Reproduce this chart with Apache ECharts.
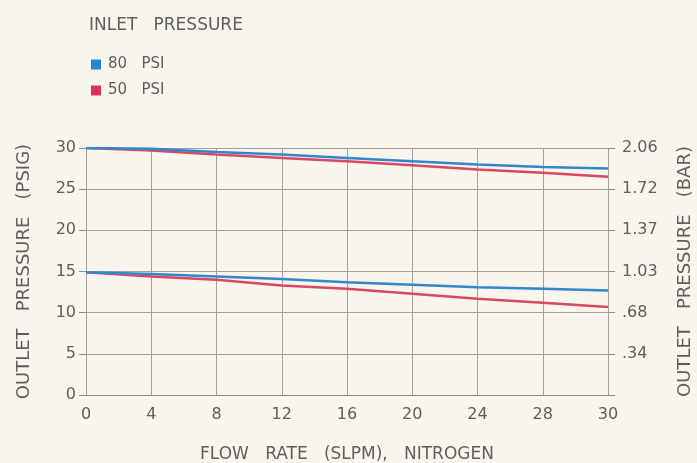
<!DOCTYPE html>
<html><head><meta charset="utf-8">
<script src="https://cdn.jsdelivr.net/npm/echarts@6/dist/echarts.min.js"></script>
<style>html,body{margin:0;padding:0;background:#f8f5ec;}#c{width:697px;height:463px;}</style>
</head><body><div id="c"></div>
<script>
const flowRates = ['0','4','8','12','16','20','24','28','30'];
const high80 = [30.0, 29.9, 29.5, 29.2, 28.8, 28.4, 28.0, 27.7, 27.5];
const high50 = [30.0, 29.7, 29.2, 28.8, 28.4, 27.9, 27.4, 27.0, 26.5];
const low80  = [14.9, 14.7, 14.4, 14.1, 13.7, 13.4, 13.1, 12.9, 12.7];
const low50  = [14.9, 14.4, 14.0, 13.3, 12.9, 12.3, 11.7, 11.2, 10.7];
const psigTicks = ['0','5','10','15','20','25','30'];
const barTicks = ['', '.34', '.68', '1.03', '1.37', '1.72', '2.06'];
const legendNames = ['80   PSI', '50   PSI'];
const blue = '#3385d0', red = '#d84862';
const txt = '#5e5e5e';
const font = 'DejaVu Sans';
const chart = echarts.init(document.getElementById('c'));
const line = (name, data, color) => ({name, type:'line', data, xAxisIndex:0, yAxisIndex:0, symbol:'none', lineStyle:{color, width:2.5}, itemStyle:{color}});
chart.setOption({
  backgroundColor:'#f8f5ec',
  textStyle:{fontFamily:font},
  title:{text:'INLET   PRESSURE', left:84, top:12, textStyle:{fontSize:17, fontWeight:'normal', color:txt, fontFamily:font}},
  legend:{data:[{name:legendNames[0], itemStyle:{color:'#1e88d8'}},{name:legendNames[1], itemStyle:{color:'#e0305a'}}],
    orient:'vertical', left:86, top:52, icon:'rect', itemWidth:10, itemHeight:10, itemGap:11,
    textStyle:{fontSize:15, color:txt, fontFamily:font, padding:[0,0,0,2]}},
  grid:{left:86, right:89, top:148, bottom:68, outerBoundsMode:'none', containLabel:false},
  xAxis:{type:'category', data:flowRates, boundaryGap:false,
    name:'FLOW   RATE   (SLPM),   NITROGEN', nameLocation:'middle', nameGap:51,
    nameTextStyle:{fontSize:17, color:txt, fontFamily:font},
    axisLine:{lineStyle:{color:'#8a8a8a'}}, axisTick:{show:false},
    axisLabel:{fontSize:16, color:txt, margin:12},
    splitLine:{show:true, lineStyle:{color:'#a0a0a0', width:1}}},
  yAxis:[{type:'value', min:0, max:30, interval:5, position:'left',
    name:'OUTLET   PRESSURE   (PSIG)', nameLocation:'middle', nameGap:53, nameRotate:90,
    nameTextStyle:{fontSize:18, color:txt, fontFamily:font},
    axisLine:{show:false}, axisTick:{show:true, length:7, lineStyle:{color:'#8a8a8a'}},
    axisLabel:{fontSize:16, color:txt, margin:10, formatter:(v)=>psigTicks[Math.round(v/5)]},
    splitLine:{show:true, lineStyle:{color:'#a0a0a0', width:1}}},
   {type:'value', min:0, max:30, interval:5, position:'right',
    name:'OUTLET   PRESSURE   (BAR)', nameLocation:'middle', nameGap:68, nameRotate:90,
    nameTextStyle:{fontSize:18, color:txt, fontFamily:font},
    axisLine:{show:false}, axisTick:{show:true, length:7, lineStyle:{color:'#8a8a8a'}},
    axisLabel:{fontSize:16, color:txt, margin:14, formatter:(v)=>barTicks[Math.round(v/5)]},
    splitLine:{show:false}}],
  series:[line(legendNames[1], high50, red), line(legendNames[0], high80, blue),
          line(legendNames[1], low50, red), line(legendNames[0], low80, blue)]
});
</script></body></html>
